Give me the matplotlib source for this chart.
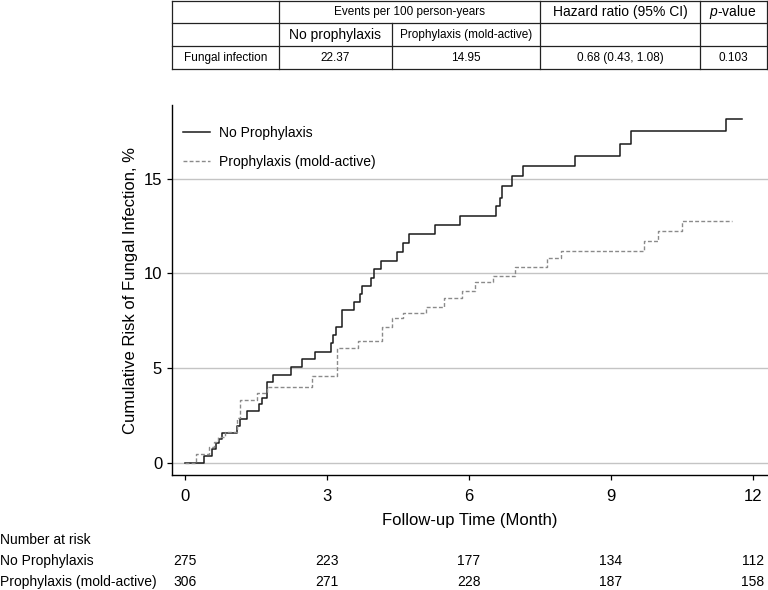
import matplotlib
matplotlib.use("Agg")
import matplotlib.pyplot as plt
from matplotlib.transforms import blended_transform_factory

plt.rcParams['font.family'] = ['Liberation Sans', 'DejaVu Sans']
plt.rcParams['mathtext.fontset'] = 'custom'
plt.rcParams['mathtext.rm'] = 'Liberation Sans'
plt.rcParams['mathtext.it'] = 'Liberation Sans:italic'

# cumulative incidence, step curves (months, %)
no_t = [0, 0.41, 0.58, 0.65, 0.72, 0.79, 1.10, 1.16, 1.30, 1.57, 1.62, 1.74, 1.85, 2.25, 2.47,
        2.74, 3.09, 3.13, 3.19, 3.31, 3.57, 3.70, 3.73, 3.94, 3.99, 4.14, 4.47, 4.61, 4.73,
        5.28, 5.81, 6.58, 6.65, 6.70, 6.90, 7.14, 8.25, 9.20, 9.42, 11.44, 11.76]
no_v = [0, 0.36, 0.73, 1.02, 1.25, 1.55, 1.93, 2.33, 2.73, 3.10, 3.42, 4.24, 4.64, 5.07, 5.46,
        5.86, 6.31, 6.76, 7.15, 8.05, 8.47, 8.90, 9.33, 9.77, 10.23, 10.67, 11.15, 11.59, 12.07,
        12.56, 13.03, 13.56, 14.00, 14.60, 15.16, 15.70, 16.22, 16.85, 17.50, 18.17, 18.17]

pr_t = [0, 0.23, 0.51, 0.61, 0.70, 0.85, 1.09, 1.16, 1.52, 1.74, 2.69, 3.22, 3.66, 4.17, 4.37,
        4.60, 5.09, 5.47, 5.85, 6.13, 6.51, 6.97, 7.66, 7.94, 9.70, 9.99, 10.51, 11.55]
pr_v = [0, 0.45, 0.85, 1.10, 1.35, 1.60, 2.35, 3.30, 3.66, 4.00, 4.60, 6.05, 6.43, 7.18, 7.66,
        7.92, 8.24, 8.72, 9.05, 9.56, 9.88, 10.32, 10.80, 11.20, 11.70, 12.22, 12.75, 12.75]

risk_times = [0, 3, 6, 9, 12]
risk_no = [275, 223, 177, 134, 112]
risk_pr = [306, 271, 228, 187, 158]

# summary table
col_edges = [172, 279, 391.7, 540.3, 699.7, 766.5]
row_edges = [0.5, 23, 46, 68.5]
header1 = ["Events per 100 person-years", "Hazard ratio (95% CI)", r"$\mathit{p}$-value"]
header2 = ["No prophylaxis", "Prophylaxis (mold-active)"]
row_label = "Fungal infection"
row_vals = ["22.37", "14.95", "0.68 (0.43, 1.08)", "0.103"]

fig = plt.figure(figsize=(7.68, 5.9), dpi=100)
W, H = 768, 590
ax = fig.add_axes([172 / W, (H - 475) / H, (W - 172) / W, (475 - 105) / H])

ax.step(no_t, no_v, where='post', color='#1a1a1a', lw=1.1, label='No Prophylaxis')
ax.step(pr_t, pr_v, where='post', color='#8a8a8a', lw=1.0, linestyle=(0, (2.8, 1.6)),
        label='Prophylaxis (mold-active)')

ax.set_xlim(-0.275, 12.32)
ax.set_ylim(-0.65, 18.9)
ax.set_xticks(risk_times)
ax.set_yticks([0, 5, 10, 15])
ax.yaxis.grid(True, color='#c4c4c4', lw=1)
ax.set_axisbelow(True)
for s in ['top', 'right']:
    ax.spines[s].set_visible(False)
for s in ['left', 'bottom']:
    ax.spines[s].set_linewidth(1)
ax.tick_params(direction='out', length=3.6, width=0.9, labelsize=12)
ax.tick_params(axis='x', pad=6.5)
ax.tick_params(axis='y', pad=3.5)
ax.set_xlabel('Follow-up Time (Month)', fontsize=12)
ax.set_ylabel('Cumulative Risk of Fungal Infection, %', fontsize=12)
ax.xaxis.set_label_coords(0.5, -0.103)
ax.yaxis.set_label_coords(-0.057, 0.5)

ax.legend(loc='upper left', bbox_to_anchor=(11 / 596, (475 - 126) / 370), frameon=False,
          fontsize=10, handlelength=1.95, handletextpad=0.65, labelspacing=1.1,
          borderpad=0, borderaxespad=0)

# overlay in pixel coordinates for the tables
ov = fig.add_axes([0, 0, 1, 1], zorder=-1)
ov.set_xlim(0, W)
ov.set_ylim(H, 0)
ov.axis('off')

lc = '#222222'
for y in row_edges:
    ov.plot([col_edges[0], col_edges[-1]], [y, y], color=lc, lw=0.9)
for i, x in enumerate(col_edges):
    y0 = row_edges[1] if i == 2 else row_edges[0]
    ov.plot([x, x], [y0, row_edges[-1]], color=lc, lw=0.9)

def cx(a, b):
    return (col_edges[a] + col_edges[b]) / 2

r1 = (row_edges[0] + row_edges[1]) / 2 + 0.5
r2 = (row_edges[1] + row_edges[2]) / 2 + 0.5
r3 = (row_edges[2] + row_edges[3]) / 2 + 0.5
ov.text(cx(1, 3), r1, header1[0], ha='center', va='center', fontsize=8.5)
ov.text(cx(3, 4), r1, header1[1], ha='center', va='center', fontsize=10)
ov.text(cx(4, 5), r1, header1[2], ha='center', va='center', fontsize=10)
ov.text(cx(1, 2), r2, header2[0], ha='center', va='center', fontsize=10)
ov.text(cx(2, 3), r2, header2[1], ha='center', va='center', fontsize=8.5)
ov.text(cx(0, 1), r3, row_label, ha='center', va='center', fontsize=8.5)
for j, v in enumerate(row_vals):
    ov.text(cx(j + 1, j + 2), r3, v, ha='center', va='center', fontsize=8.5)

# number at risk
tr = blended_transform_factory(ax.transData, ov.transData)
ov.text(0, 540, 'Number at risk', ha='left', va='center', fontsize=10)
ov.text(0, 561, 'No Prophylaxis', ha='left', va='center', fontsize=10)
ov.text(0, 582, 'Prophylaxis (mold-active)', ha='left', va='center', fontsize=10)
for t, a, b in zip(risk_times, risk_no, risk_pr):
    ov.text(t, 561, str(a), transform=tr, ha='center', va='center', fontsize=10)
    ov.text(t, 582, str(b), transform=tr, ha='center', va='center', fontsize=10)

fig.savefig('out.png', dpi=100)
